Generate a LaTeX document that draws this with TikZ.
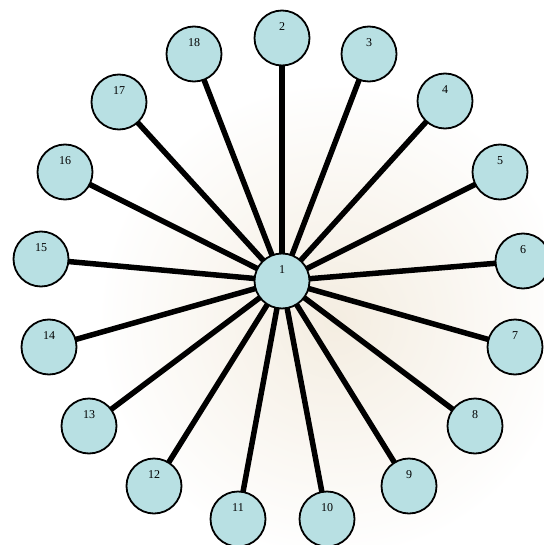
\documentclass[tikz,border=0pt]{standalone}
\usepackage{fontspec}
\setmainfont{Liberation Serif}
\begin{document}
\begin{tikzpicture}[x=1pt,y=-1pt,
  vert/.style={circle,draw=black,line width=1.8pt,fill=nodeblue,minimum size=55pt,inner sep=0pt},
  edge/.style={line width=5.5pt,black}]
\definecolor{nodeblue}{RGB}{184,224,227}
\definecolor{globe}{RGB}{225,205,170}
\useasboundingbox (0,0) rectangle (543,545);
\fill[white] (0,0) rectangle (543,545);
\shade[inner color=globe,outer color=white,opacity=0.35] (335,320) circle (235);
\foreach \n/\x/\y in {1/282/281,2/282/38,3/369/54,4/445/101,5/500/172,6/523/261,7/515/347,8/475/426,9/409/486,10/327/519,11/238/519,12/154/486,13/89/426,14/49/347,15/41/259,16/65/172,17/119/102,18/194/54}{
  \coordinate (p\n) at (\x,\y);
}
\foreach \n in {2,...,18}{
  \draw[edge] (p1) -- (p\n);
}
\foreach \n in {1,...,18}{
  \node[vert,label={[yshift=11pt,font=\fontsize{12}{13}\selectfont]center:\n}] (v\n) at (p\n) {};
}
\end{tikzpicture}
\end{document}
